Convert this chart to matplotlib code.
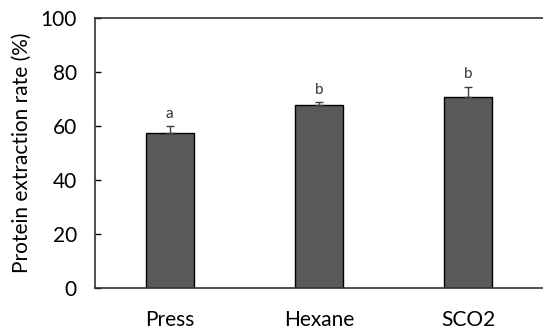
import matplotlib.pyplot as plt

# data
methods = ['Press', 'Hexane', 'SCO2']
rate = [57.5, 67.7, 70.8]
err = [2.6, 1.2, 3.8]
letters = ['a', 'b', 'b']

plt.rcParams['font.family'] = ['Lato', 'DejaVu Sans']

fig = plt.figure(figsize=(5.43, 3.31), dpi=100)
ax = fig.add_axes([95 / 543, 1 - 288 / 331, 448 / 543, 270 / 331])

ax.bar(range(len(methods)), rate, width=0.32, color='#595959',
       edgecolor='black', linewidth=1.0, zorder=2)
ax.errorbar(range(len(methods)), rate, yerr=[[0] * len(err), err], fmt='none',
            ecolor='#404040', elinewidth=1.0, capsize=3, capthick=1.0, zorder=3)

# significance letters
for i, (v, e, t) in enumerate(zip(rate, err, letters)):
    ax.text(i, v + e + 4.5, t, ha='center', va='center', fontsize=11, color='#333333')

ax.set_xlim(-0.5, 2.5)
ax.set_ylim(0, 100)
ax.set_yticks([0, 20, 40, 60, 80, 100])
ax.set_xticks(range(len(methods)))
ax.set_xticklabels(methods)
ax.tick_params(axis='y', direction='in', length=4, width=1, labelsize=15, pad=13)
ax.tick_params(axis='x', length=0, labelsize=15, pad=16)
ax.set_ylabel('Protein extraction rate (%)', fontsize=15, labelpad=6)

for s in ['top', 'left', 'bottom']:
    ax.spines[s].set_linewidth(1.2)
    ax.spines[s].set_color('#333333')
ax.spines['right'].set_visible(False)

fig.savefig('out.png', dpi=100)
